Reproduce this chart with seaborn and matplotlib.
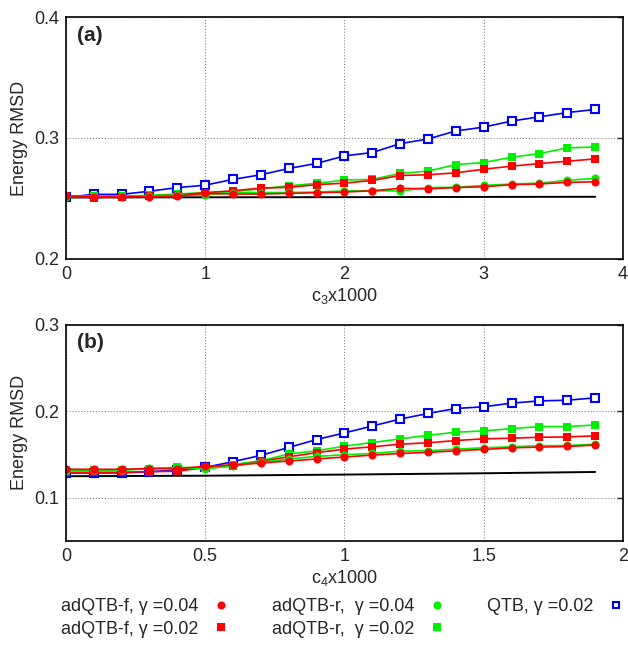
import numpy as np
import pandas as pd
import matplotlib
matplotlib.use("Agg")
import matplotlib.pyplot as plt
import seaborn as sns
from matplotlib.lines import Line2D

# ---------------- data ----------------
c3 = [0.0, 0.2, 0.4, 0.6, 0.8, 1.0, 1.2, 1.4, 1.6, 1.8, 2.0, 2.2, 2.4, 2.6, 2.8, 3.0, 3.2, 3.4, 3.6, 3.8]
a_qtb = [0.251, 0.2534, 0.2534, 0.256, 0.259, 0.261, 0.2658, 0.2696, 0.2748, 0.279,
         0.2852, 0.288, 0.2953, 0.2992, 0.3058, 0.309, 0.314, 0.3175, 0.321, 0.3236]
a_r02 = [0.252, 0.252, 0.252, 0.2526, 0.2537, 0.2548, 0.2556, 0.258, 0.2605, 0.2625,
         0.2652, 0.2658, 0.2707, 0.2726, 0.278, 0.2797, 0.2841, 0.2871, 0.2918, 0.2926]
a_f02 = [0.252, 0.2507, 0.2515, 0.252, 0.2529, 0.2548, 0.2564, 0.2586, 0.2592, 0.2614,
         0.2627, 0.2649, 0.269, 0.2696, 0.2712, 0.2742, 0.2767, 0.2789, 0.2808, 0.2827]
a_r04 = [0.2515, 0.252, 0.252, 0.252, 0.2529, 0.2529, 0.2548, 0.2548, 0.255, 0.2553,
         0.2562, 0.2564, 0.2562, 0.259, 0.2593, 0.2608, 0.262, 0.2626, 0.265, 0.2666]
a_f04 = [0.2523, 0.2515, 0.2515, 0.2515, 0.252, 0.2542, 0.2537, 0.2537, 0.2542, 0.2548,
         0.2553, 0.2564, 0.2584, 0.258, 0.259, 0.2597, 0.2614, 0.262, 0.2633, 0.2638]
a_ref_x = [0.0, 1.0, 2.0, 3.0, 3.8]
a_ref = [0.2508, 0.2510, 0.2511, 0.2513, 0.2514]

c4 = [0.0, 0.1, 0.2, 0.3, 0.4, 0.5, 0.6, 0.7, 0.8, 0.9, 1.0, 1.1, 1.2, 1.3, 1.4, 1.5, 1.6, 1.7, 1.8, 1.9]
b_qtb = [0.1286, 0.1286, 0.1286, 0.130, 0.132, 0.135, 0.1416, 0.1489, 0.158, 0.1672,
         0.1748, 0.1828, 0.1908, 0.1973, 0.203, 0.205, 0.2092, 0.2118, 0.2126, 0.2153]
b_r02 = [0.132, 0.132, 0.132, 0.1332, 0.135, 0.1344, 0.1382, 0.1427, 0.1504, 0.1542,
         0.1595, 0.1637, 0.1679, 0.1721, 0.1756, 0.1771, 0.1798, 0.1821, 0.1821, 0.184]
b_f02 = [0.1294, 0.1294, 0.1294, 0.130, 0.1305, 0.135, 0.1363, 0.142, 0.1473, 0.152,
         0.1561, 0.1588, 0.1618, 0.1634, 0.166, 0.168, 0.1687, 0.1698, 0.1702, 0.1714]
b_r04 = [0.1313, 0.132, 0.132, 0.1339, 0.135, 0.133, 0.137, 0.1408, 0.1447, 0.1477,
         0.1496, 0.1511, 0.1538, 0.1542, 0.1561, 0.1576, 0.1588, 0.160, 0.1603, 0.1618]
b_f04 = [0.1328, 0.1328, 0.1328, 0.1336, 0.1336, 0.1363, 0.1378, 0.140, 0.1424, 0.1447,
         0.147, 0.1492, 0.1511, 0.1523, 0.1542, 0.1557, 0.1576, 0.1584, 0.1592, 0.1607]
b_ref_x = [0.0, 0.5, 1.0, 1.5, 1.9]
b_ref = [0.1248, 0.1254, 0.1267, 0.1282, 0.1297]

labels = ["adQTB-f, \u03b3 =0.04", "adQTB-f, \u03b3 =0.02",
          "adQTB-r,  \u03b3 =0.04", "adQTB-r,  \u03b3 =0.02",
          "QTB, \u03b3 =0.02"]
a_xticks = [0, 1, 2, 3, 4]
a_xticklabels = ["0", "1", "2", "3", "4"]
a_yticks = [0.2, 0.3, 0.4]
a_yticklabels = ["0.2", "0.3", "0.4"]
b_xticks = [0, 0.5, 1, 1.5, 2]
b_xticklabels = ["0", "0.5", "1", "1.5", "2"]
b_yticks = [0.1, 0.2, 0.3]
b_yticklabels = ["0.1", "0.2", "0.3"]

# ---------------- style ----------------
sns.set_style("white")
plt.rcParams['font.family'] = ['Liberation Sans', 'DejaVu Sans']
plt.rcParams['mathtext.fontset'] = 'custom'
plt.rcParams['mathtext.rm'] = 'Liberation Sans'
plt.rcParams['mathtext.it'] = 'Liberation Sans'

RED, GREEN, BLUE = "#ff0000", "#00f000", "#0000ff"
ms = 5.2
LW = 1.2
FS = 13

fig = plt.figure(figsize=(6.28, 6.54), dpi=100)
ax1 = fig.add_axes([0.105, 0.604, 0.887, 0.370])
ax2 = fig.add_axes([0.105, 0.1728, 0.887, 0.331])


def draw(ax, x, qtb, r02, f02, r04, f04, refx, ref):
    sns.lineplot(x=refx, y=ref, ax=ax, color="black", lw=1.4)
    sns.lineplot(x=x, y=qtb, ax=ax, color=BLUE, lw=LW, marker="s", markersize=ms,
                 markerfacecolor="white", markeredgecolor=BLUE, markeredgewidth=1.5)
    sns.lineplot(x=x, y=r02, ax=ax, color=GREEN, lw=LW, marker="s", markersize=ms,
                 markeredgecolor=GREEN, markeredgewidth=0)
    sns.lineplot(x=x, y=f02, ax=ax, color=RED, lw=LW, marker="s", markersize=ms,
                 markeredgecolor=RED, markeredgewidth=0)
    sns.lineplot(x=x, y=r04, ax=ax, color=GREEN, lw=LW, marker="o", markersize=ms + 0.6,
                 markeredgecolor=GREEN, markeredgewidth=0)
    sns.lineplot(x=x, y=f04, ax=ax, color=RED, lw=LW, marker="o", markersize=ms + 0.6,
                 markeredgecolor=RED, markeredgewidth=0)


draw(ax1, c3, a_qtb, a_r02, a_f02, a_r04, a_f04, a_ref_x, a_ref)
draw(ax2, c4, b_qtb, b_r02, b_f02, b_r04, b_f04, b_ref_x, b_ref)

for ax, xt, xtl, yt, ytl, xlim, ylim, tag, xl in [
        (ax1, a_xticks, a_xticklabels, a_yticks, a_yticklabels, (0, 4), (0.2, 0.4), "(a)", "c$_3$x1000"),
        (ax2, b_xticks, b_xticklabels, b_yticks, b_yticklabels, (0, 2), (0.05, 0.3), "(b)", "c$_4$x1000")]:
    ax.set_xlim(*xlim)
    ax.set_ylim(*ylim)
    ax.set_xticks(xt)
    ax.set_xticklabels(xtl)
    ax.set_yticks(yt)
    ax.set_yticklabels(ytl)
    ax.grid(True, color="#888888", linestyle=":", linewidth=0.8)
    ax.tick_params(direction="in", length=4, width=1, labelsize=FS, right=True, top=False, pad=5)
    for s in ax.spines.values():
        s.set_color("black")
        s.set_linewidth(1.2)
    ax.set_xlabel(xl, fontsize=FS, labelpad=2)
    ax.set_ylabel("Energy RMSD", fontsize=FS, labelpad=4)
    ax.text(0.02, 0.962, tag, transform=ax.transAxes, fontsize=15, fontweight="bold",
            va="top", ha="left")

handles = [
    Line2D([], [], ls="none", marker="o", color=RED, markersize=ms + 0.6, markeredgewidth=0),
    Line2D([], [], ls="none", marker="s", color=RED, markersize=ms, markeredgewidth=0),
    Line2D([], [], ls="none", marker="o", color=GREEN, markersize=ms + 0.6, markeredgewidth=0),
    Line2D([], [], ls="none", marker="s", color=GREEN, markersize=ms, markeredgewidth=0),
    Line2D([], [], ls="none", marker="s", color=BLUE, markerfacecolor="white",
           markersize=ms - 0.5, markeredgewidth=1.5),
]
fig.legend(handles, labels, ncol=3, loc="upper left", bbox_to_anchor=(0.072, 0.110),
           frameon=False, markerfirst=False, fontsize=FS, handlelength=1.0,
           handletextpad=0.75, columnspacing=2.3, labelspacing=0.3, borderpad=0.4)

fig.savefig("out.png", dpi=100)
